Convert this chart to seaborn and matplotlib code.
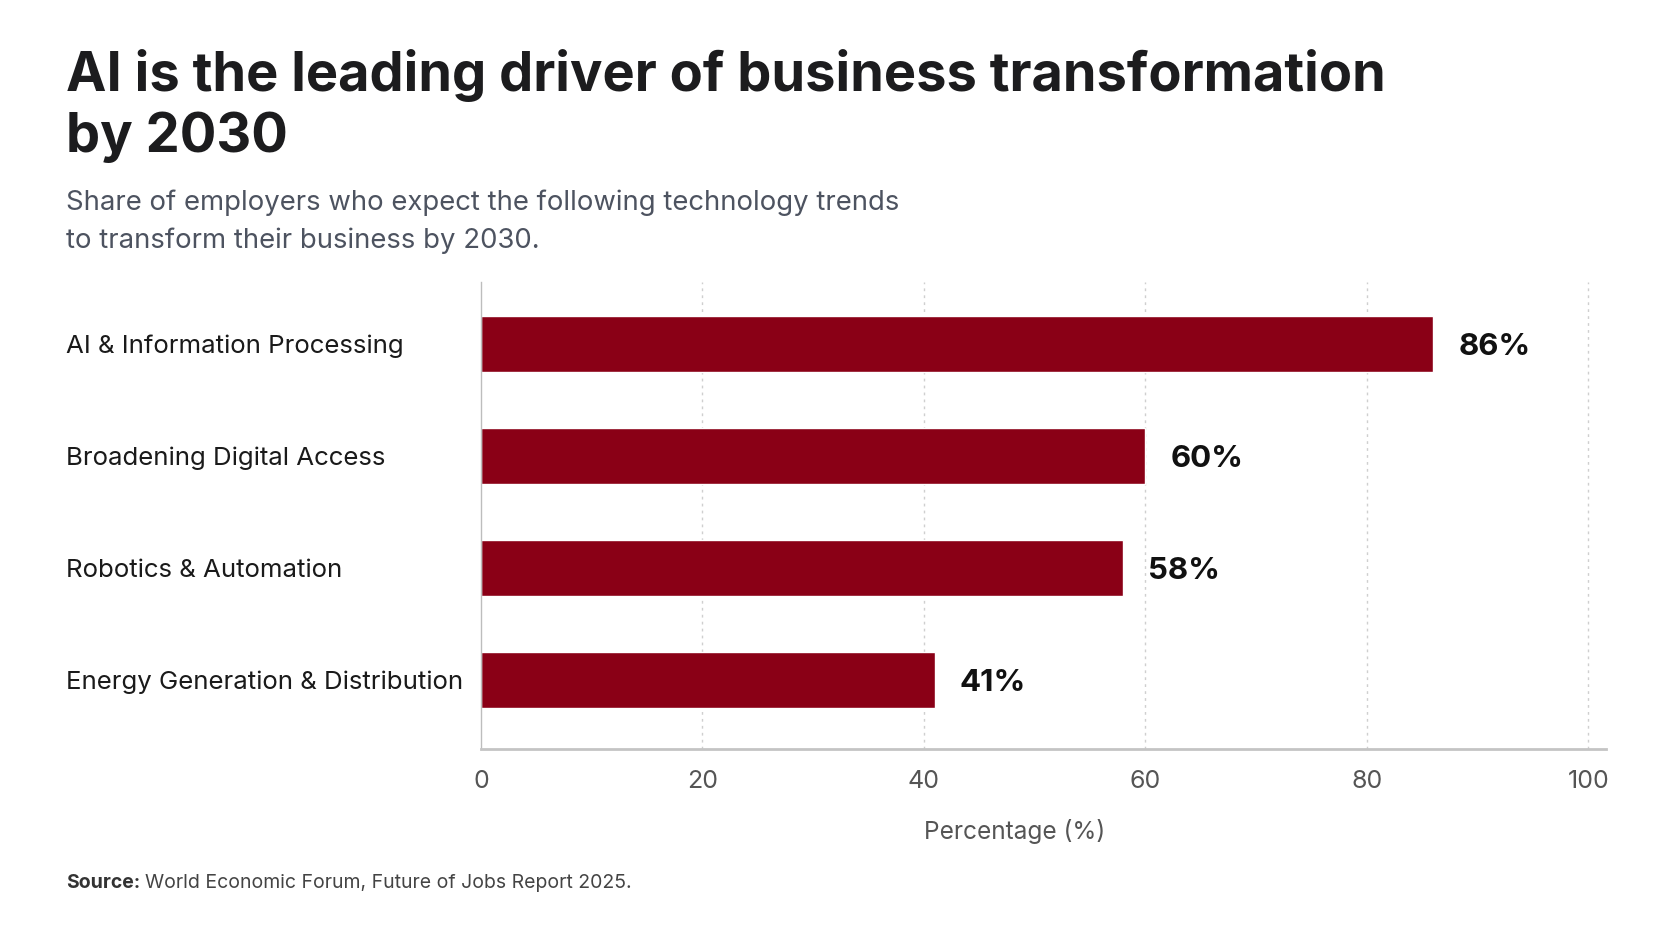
import pandas as pd
import matplotlib.pyplot as plt
import seaborn as sns

# values
categories = ['AI & Information Processing', 'Broadening Digital Access',
              'Robotics & Automation', 'Energy Generation & Distribution']
shares = [86, 60, 58, 41]
value_labels = ['86%', '60%', '58%', '41%']
x_ticks = [0, 20, 40, 60, 80, 100]

df = pd.DataFrame({'trend': categories, 'share': shares})

sns.set_theme(style='white')
plt.rcParams['font.family'] = ['Inter', 'DejaVu Sans']

fig = plt.figure(figsize=(16.72, 9.41), dpi=100)
ax = fig.add_axes([0.2877, 0.204, 0.9605 - 0.2877, 0.7003 - 0.204])

sns.barplot(data=df, x='share', y='trend', orient='h', color='#8a0016',
            width=0.5, saturation=1, ax=ax)

ax.set_xlim(0, 101.6)
ax.set_ylim(3.62, -0.55)
ax.set_xticks(x_ticks)
ax.set_xticklabels([str(t) for t in x_ticks])
ax.tick_params(axis='x', length=0, pad=15, labelsize=18, labelcolor='#555555')
ax.tick_params(axis='y', length=0, pad=299, labelsize=18.6, labelcolor='#1a1a1a')
for lbl in ax.get_yticklabels():
    lbl.set_ha('left')

ax.set_ylabel('')
ax.set_xlabel('Percentage (%)', fontsize=17.6, color='#555555', labelpad=19, x=0.474)

# grid
for t in x_ticks[1:]:
    ax.axvline(t, color='#cfcfcf', lw=1, ls=(0, (2, 3)), zorder=0)

for side in ['top', 'right']:
    ax.spines[side].set_visible(False)
ax.spines['left'].set_color('#bdbdbd')
ax.spines['left'].set_linewidth(1)
ax.spines['bottom'].set_color('#c4c4c4')
ax.spines['bottom'].set_linewidth(2)

# value labels
for i, (v, lab) in enumerate(zip(shares, value_labels)):
    ax.annotate(lab, (v, i), xytext=(18, 0), textcoords='offset points',
                va='center_baseline', ha='left', fontsize=22.5, fontweight='bold',
                color='#111111')

# titles
fig.text(0.0395, 1 - 91 / 941, 'AI is the leading driver of business transformation',
         fontsize=39, fontweight='bold', color='#1c1c1e', va='baseline')
fig.text(0.0395, 1 - 152 / 941, 'by 2030',
         fontsize=39, fontweight='bold', color='#1c1c1e', va='baseline')
fig.text(0.0395, 1 - 210 / 941, 'Share of employers who expect the following technology trends',
         fontsize=19.8, color='#4d5360', va='baseline')
fig.text(0.0395, 1 - 248 / 941, 'to transform their business by 2030.',
         fontsize=19.8, color='#4d5360', va='baseline')

# source line
src = fig.text(0.0395, 1 - 888 / 941, 'Source:', fontsize=14, fontweight='bold',
               color='#333333', va='baseline')
fig.canvas.draw()
bb = src.get_window_extent()
fig.text((bb.x1 + 5) / fig.bbox.width, 1 - 888 / 941,
         'World Economic Forum, Future of Jobs Report 2025.',
         fontsize=14, color='#444444', va='baseline')

fig.savefig('out.png', dpi=100, facecolor='white')
